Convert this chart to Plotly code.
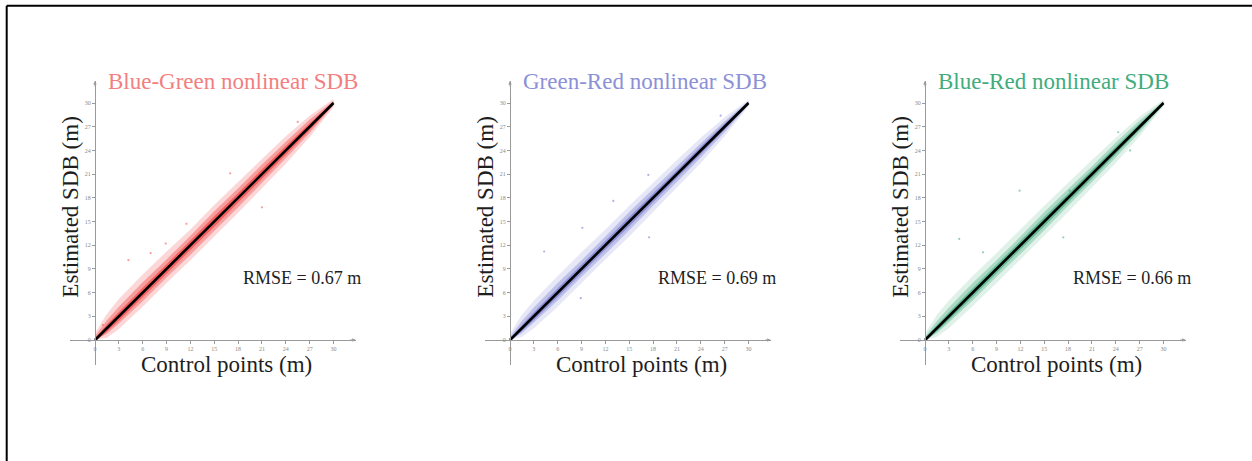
import plotly.graph_objects as go

# ---- data -----------------------------------------------------------------
titles = ["Blue-Green nonlinear SDB", "Green-Red nonlinear SDB", "Blue-Red nonlinear SDB"]
rmse = [0.67, 0.69, 0.66]
tick_vals = [0, 3, 6, 9, 12, 15, 18, 21, 24, 27, 30]

# control depths at which the scatter cloud extent was read (m)
band_x = [0, 1.5, 3, 6, 9, 12, 15, 18, 21, 24, 27, 30]

# vertical extent of the point cloud above / below the 1:1 line (m)
sparse_up = [
    [0.9, 1.8, 2.2, 2.3, 2.2, 2.0, 2.1, 2.0, 1.9, 1.8, 1.4, 0.5],
    [0.8, 1.7, 2.0, 2.1, 2.1, 2.0, 2.0, 1.9, 1.8, 1.6, 1.2, 0.4],
    [0.8, 1.7, 2.0, 2.1, 2.0, 2.0, 2.0, 1.9, 1.8, 1.6, 1.3, 0.4],
]
sparse_dn = [
    [0.0, 1.2, 1.6, 1.8, 1.8, 1.9, 1.9, 1.9, 1.8, 1.7, 1.3, 0.5],
    [0.0, 1.1, 1.5, 1.8, 1.8, 1.8, 1.9, 1.8, 1.7, 1.6, 1.2, 0.4],
    [0.0, 1.1, 1.5, 1.7, 1.8, 1.8, 1.8, 1.8, 1.7, 1.6, 1.2, 0.4],
]
dense_up = [
    [0.5, 1.0, 1.2, 1.3, 1.2, 1.2, 1.3, 1.2, 1.2, 1.1, 0.9, 0.3],
    [0.4, 0.9, 1.1, 1.2, 1.1, 1.1, 1.2, 1.1, 1.0, 0.9, 0.7, 0.25],
    [0.4, 0.9, 1.1, 1.2, 1.1, 1.1, 1.2, 1.1, 1.0, 1.0, 0.8, 0.25],
]
dense_dn = [
    [0.0, 0.7, 0.9, 1.1, 1.1, 1.2, 1.2, 1.2, 1.1, 1.0, 0.8, 0.3],
    [0.0, 0.6, 0.8, 1.0, 1.0, 1.1, 1.1, 1.0, 1.0, 0.9, 0.7, 0.25],
    [0.0, 0.6, 0.8, 1.0, 1.0, 1.1, 1.1, 1.0, 1.0, 0.9, 0.7, 0.25],
]
core_half = [
    [0.2, 0.45, 0.55, 0.6, 0.6, 0.6, 0.65, 0.6, 0.6, 0.55, 0.45, 0.15],
    [0.2, 0.4, 0.5, 0.55, 0.55, 0.55, 0.6, 0.55, 0.5, 0.5, 0.4, 0.15],
    [0.2, 0.4, 0.5, 0.55, 0.55, 0.55, 0.6, 0.55, 0.55, 0.5, 0.4, 0.15],
]

# isolated points away from the main cloud (control, estimated)
outlier_x = [
    [1.0, 4.2, 7.0, 8.9, 11.5, 17.0, 21.0, 25.5],
    [4.3, 8.9, 9.1, 13.0, 17.4, 17.5, 26.5],
    [4.3, 7.3, 11.9, 17.4, 18.2, 24.3, 25.8],
]
outlier_y = [
    [1.9, 10.1, 11.0, 12.2, 14.7, 21.1, 16.8, 27.6],
    [11.2, 5.3, 14.2, 17.6, 20.9, 13.0, 28.4],
    [12.8, 11.1, 18.9, 13.0, 18.9, 26.3, 24.0],
]

one_to_one = [0, 30]

title_colors = ["#f27f7f", "#8c90d6", "#41ac7c"]
point_rgb = [(240, 55, 55), (95, 100, 200), (45, 160, 110)]
# fill opacity of the sparse / dense / core parts of each cloud
cloud_alpha = [(0.2, 0.36, 0.6), (0.15, 0.3, 0.5), (0.15, 0.3, 0.52)]

# ---- layout helpers ---------------------------------------------------------
W, H = 1252, 461
AX_RANGE = [-3.2, 32.8]
origin_px = [95, 510, 925]
origin_py = 340
sx, sy = 7.95, 7.9

fig = go.Figure()
layout = dict(
    width=W, height=H,
    margin=dict(l=0, r=0, t=0, b=0),
    paper_bgcolor="white", plot_bgcolor="white",
    showlegend=False,
    font=dict(family="Liberation Serif, Times New Roman, serif"),
)
annotations = []

ydom = [1 - (origin_py - AX_RANGE[0] * sy) / H, 1 - (origin_py - AX_RANGE[1] * sy) / H]
x_axis_pos = 1 - origin_py / H


def band(up, dn):
    xs = band_x + band_x[::-1]
    ys = [x + u for x, u in zip(band_x, up)] + [x - d for x, d in zip(band_x, dn)][::-1]
    return xs, ys


for i in range(3):
    k = "" if i == 0 else str(i + 1)
    xa, ya = "x" + k, "y" + k
    ox = origin_px[i]
    xdom = [(ox + AX_RANGE[0] * sx) / W, (ox + AX_RANGE[1] * sx) / W]
    r, g, b = point_rgb[i]
    a_sparse, a_dense, a_core = cloud_alpha[i]

    axis_common = dict(
        range=AX_RANGE, tickvals=tick_vals, ticks="outside", ticklen=3,
        tickcolor="#9a9a9a", tickwidth=1, showline=True, linecolor="#9a9a9a",
        linewidth=1, showgrid=False, zeroline=False,
        tickfont=dict(size=6, color="#8a8a8a", family="Liberation Serif"),
        anchor="free", fixedrange=True,
    )
    layout["xaxis" + k] = dict(axis_common, domain=xdom, position=x_axis_pos)
    layout["yaxis" + k] = dict(axis_common, domain=ydom, position=ox / W)

    # sparse outer scatter
    bx, by = band(sparse_up[i], sparse_dn[i])
    fig.add_trace(go.Scatter(
        x=bx, y=by, xaxis=xa, yaxis=ya, mode="none", fill="toself",
        fillcolor=f"rgba({r},{g},{b},{a_sparse})", hoverinfo="skip"))
    # denser body
    bx, by = band(dense_up[i], dense_dn[i])
    fig.add_trace(go.Scatter(
        x=bx, y=by, xaxis=xa, yaxis=ya, mode="none", fill="toself",
        fillcolor=f"rgba({r},{g},{b},{a_dense})", hoverinfo="skip"))
    # core along the line
    bx, by = band(core_half[i], core_half[i])
    fig.add_trace(go.Scatter(
        x=bx, y=by, xaxis=xa, yaxis=ya, mode="none", fill="toself",
        fillcolor=f"rgba({r},{g},{b},{a_core})", hoverinfo="skip"))
    # isolated points
    fig.add_trace(go.Scatter(
        x=outlier_x[i], y=outlier_y[i], xaxis=xa, yaxis=ya, mode="markers",
        marker=dict(size=2.2, color=f"rgba({r},{g},{b},0.5)"), hoverinfo="skip"))
    # 1:1 line
    fig.add_trace(go.Scatter(
        x=one_to_one, y=one_to_one, xaxis=xa, yaxis=ya, mode="lines",
        line=dict(color="black", width=2.6), hoverinfo="skip"))

    # arrowheads at the ends of the axes
    annotations.append(dict(x=AX_RANGE[1], y=0, xref=xa, yref=ya, ax=-7, ay=0,
                            showarrow=True, arrowhead=2, arrowsize=0.7, arrowwidth=1,
                            arrowcolor="#9a9a9a", text=""))
    annotations.append(dict(x=0, y=AX_RANGE[1], xref=xa, yref=ya, ax=0, ay=7,
                            showarrow=True, arrowhead=2, arrowsize=0.7, arrowwidth=1,
                            arrowcolor="#9a9a9a", text=""))
    # panel title
    annotations.append(dict(x=1.4, y=32.7, xref=xa, yref=ya, xanchor="left",
                            yanchor="middle", showarrow=False, text=titles[i],
                            font=dict(size=23, color=title_colors[i])))
    # axis titles
    annotations.append(dict(x=16.6, y=-1.25, xref=xa, yref=ya, xanchor="center",
                            yanchor="top", showarrow=False, text="Control points (m)",
                            font=dict(size=23, color="#1e1e1e")))
    annotations.append(dict(x=-3.1, y=16.8, xref=xa, yref=ya, xanchor="center",
                            yanchor="middle", showarrow=False, textangle=-90,
                            text="Estimated SDB (m)", font=dict(size=23, color="#1e1e1e")))
    # error statistic
    annotations.append(dict(x=26.0, y=7.85, xref=xa, yref=ya, xanchor="center",
                            yanchor="middle", showarrow=False,
                            text=f"RMSE = {rmse[i]:.2f} m",
                            font=dict(size=18, color="#1e1e1e")))

layout["annotations"] = annotations
# outer frame (top and left edges)
layout["shapes"] = [
    dict(type="line", xref="paper", yref="paper", x0=6.7 / W, x1=1, y0=1 - 5.7 / H,
         y1=1 - 5.7 / H, line=dict(color="black", width=2)),
    dict(type="line", xref="paper", yref="paper", x0=6.7 / W, x1=6.7 / W, y0=0,
         y1=1 - 5.7 / H, line=dict(color="black", width=2)),
]
fig.update_layout(**layout)
fig.write_html("out.html")
